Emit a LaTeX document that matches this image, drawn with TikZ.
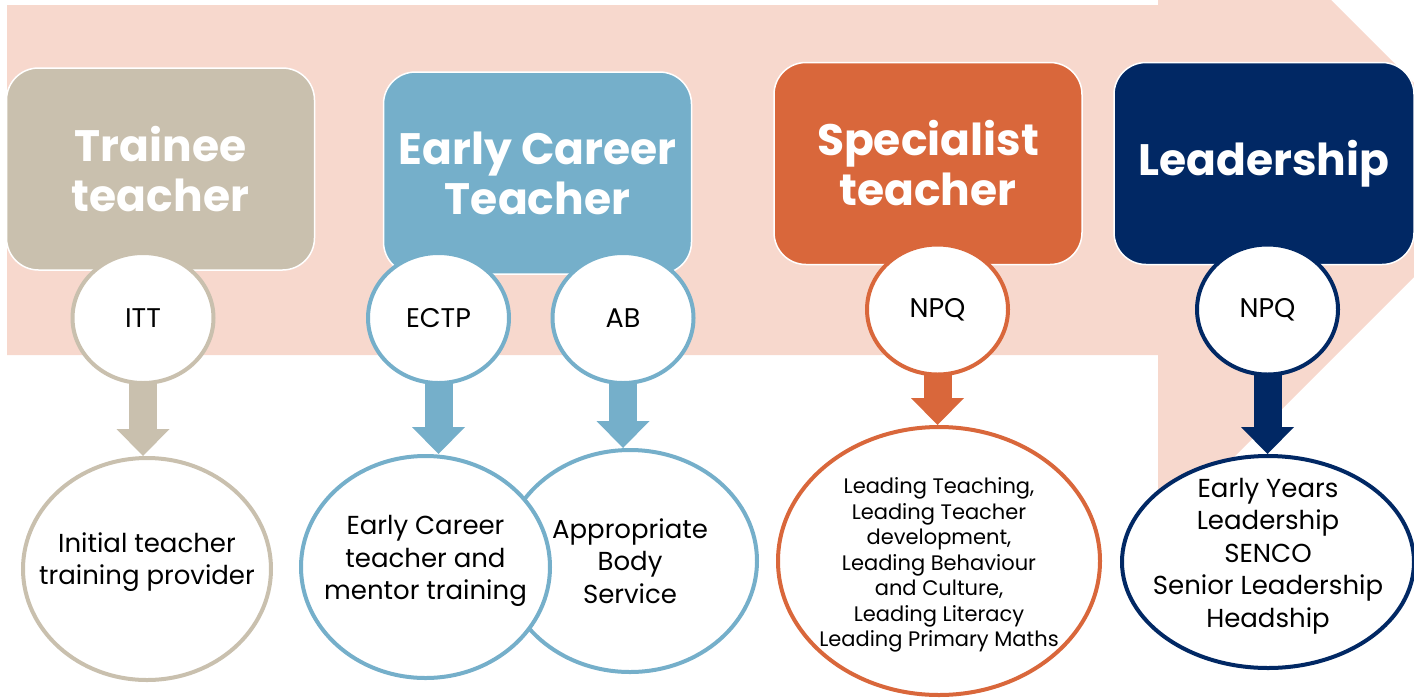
\documentclass[tikz,border=0pt]{standalone}
\usepackage{fontspec}
\setmainfont{Poppins}
\usetikzlibrary{shapes.geometric,arrows.meta}
\definecolor{bgpink}{HTML}{F7D8CD}
\definecolor{tanc}{HTML}{C9C0AE}
\definecolor{ectc}{HTML}{75AFCA}
\definecolor{specc}{HTML}{D9673B}
\definecolor{leadc}{HTML}{012864}
\tikzset{hd/.append style={draw=white, line width=1.5pt, rounded corners=32pt, minimum width=308pt, minimum height=202pt, text=white, align=center, font=\fontsize{44}{50}\selectfont\bfseries}}
\tikzset{sm/.append style={ellipse, draw, fill=white, line width=4pt, minimum width=141pt, minimum height=130pt, font=\fontsize{27}{30}\selectfont}}
\tikzset{bub/.append style={ellipse, draw, fill=white, line width=4pt, inner sep=0pt}}
\tikzset{lb/.append style={align=center, text=black, font=\fontsize{26}{32.5}\selectfont}}
\tikzset{dn/.append style={line width=28pt, -{Triangle[length=27pt,width=53pt,line width=0pt]}}}

\begin{document}
\begin{tikzpicture}[x=1pt,y=-1pt]
                \useasboundingbox (0,0) rectangle (1414,697);
                % big arrow behind
                \begin{scope}
                \clip (0,0) rectangle (1414,697);
                \fill[bgpink] (7,5) -- (1158,5) -- (1158,-173) -- (1511,180) -- (1158,533) -- (1158,355) -- (7,355) -- cycle;
                \end{scope}
                % stages
                \node[hd,fill=tanc] (tt) at (160.5,169) {Trainee\\teacher};
                \node[hd,fill=ectc] (ect) at (537.5,173) {Early Career\\Teacher};
                \node[hd,fill=specc] (st) at (928,163.5) {Specialist\\teacher};
                \node[hd,fill=leadc,minimum width=300pt] (ld) at (1264,163.5) {Leadership};
                % providers
                \node[bub,draw=tanc,minimum width=248pt,minimum height=222pt,label={[lb,yshift=7pt]center:{Initial teacher\\training provider}}] (itp) at (147,569) {};
                \node[bub,draw=ectc,minimum width=254pt,minimum height=222pt,label={[lb]center:{Appropriate\\Body\\Service}}] (abs) at (630,561) {};
                \node[bub,draw=ectc,minimum width=249pt,minimum height=222pt,label={[lb,yshift=6pt]center:{Early Career\\teacher and\\mentor training}}] (ecm) at (425.5,567) {};
                \node[bub,draw=specc,minimum width=322pt,minimum height=268pt,label={[lb,font=\fontsize{21}{25.5}\selectfont,yshift=-4pt]center:{Leading Teaching,\\Leading Teacher\\development,\\Leading Behaviour\\and Culture,\\Leading Literacy\\Leading Primary Maths}}] (spl) at (939,561) {};
                \node[bub,draw=leadc,minimum width=292pt,minimum height=212pt,label={[lb,yshift=6pt]center:{Early Years\\Leadership\\SENCO\\Senior Leadership\\Headship}}] (ldl) at (1268,562) {};
                % routes
                \node[sm,draw=tanc] (itt) at (143,318) {ITT};
                \node[sm,draw=ectc] (ectp) at (438.5,318) {ECTP};
                \node[sm,draw=ectc] (ab) at (623,318) {AB};
                \node[sm,draw=specc] (npqa) at (937.5,309.5) {NPQ};
                \node[sm,draw=leadc] (npqb) at (1267.5,309.5) {NPQ};
                \draw[dn,tanc] ([yshift=3pt]itt.south) -- (itt.south |- itp.north);
                \draw[dn,ectc] ([yshift=3pt]ectp.south) -- (ectp.south |- ecm.north);
                \draw[dn,ectc] ([yshift=3pt]ab.south) -- (ab.south |- abs.north);
                \draw[dn,specc] ([yshift=3pt]npqa.south) -- (npqa.south |- spl.north);
                \draw[dn,leadc] ([yshift=3pt]npqb.south) -- (npqb.south |- ldl.north);
\end{tikzpicture}
\end{document}
